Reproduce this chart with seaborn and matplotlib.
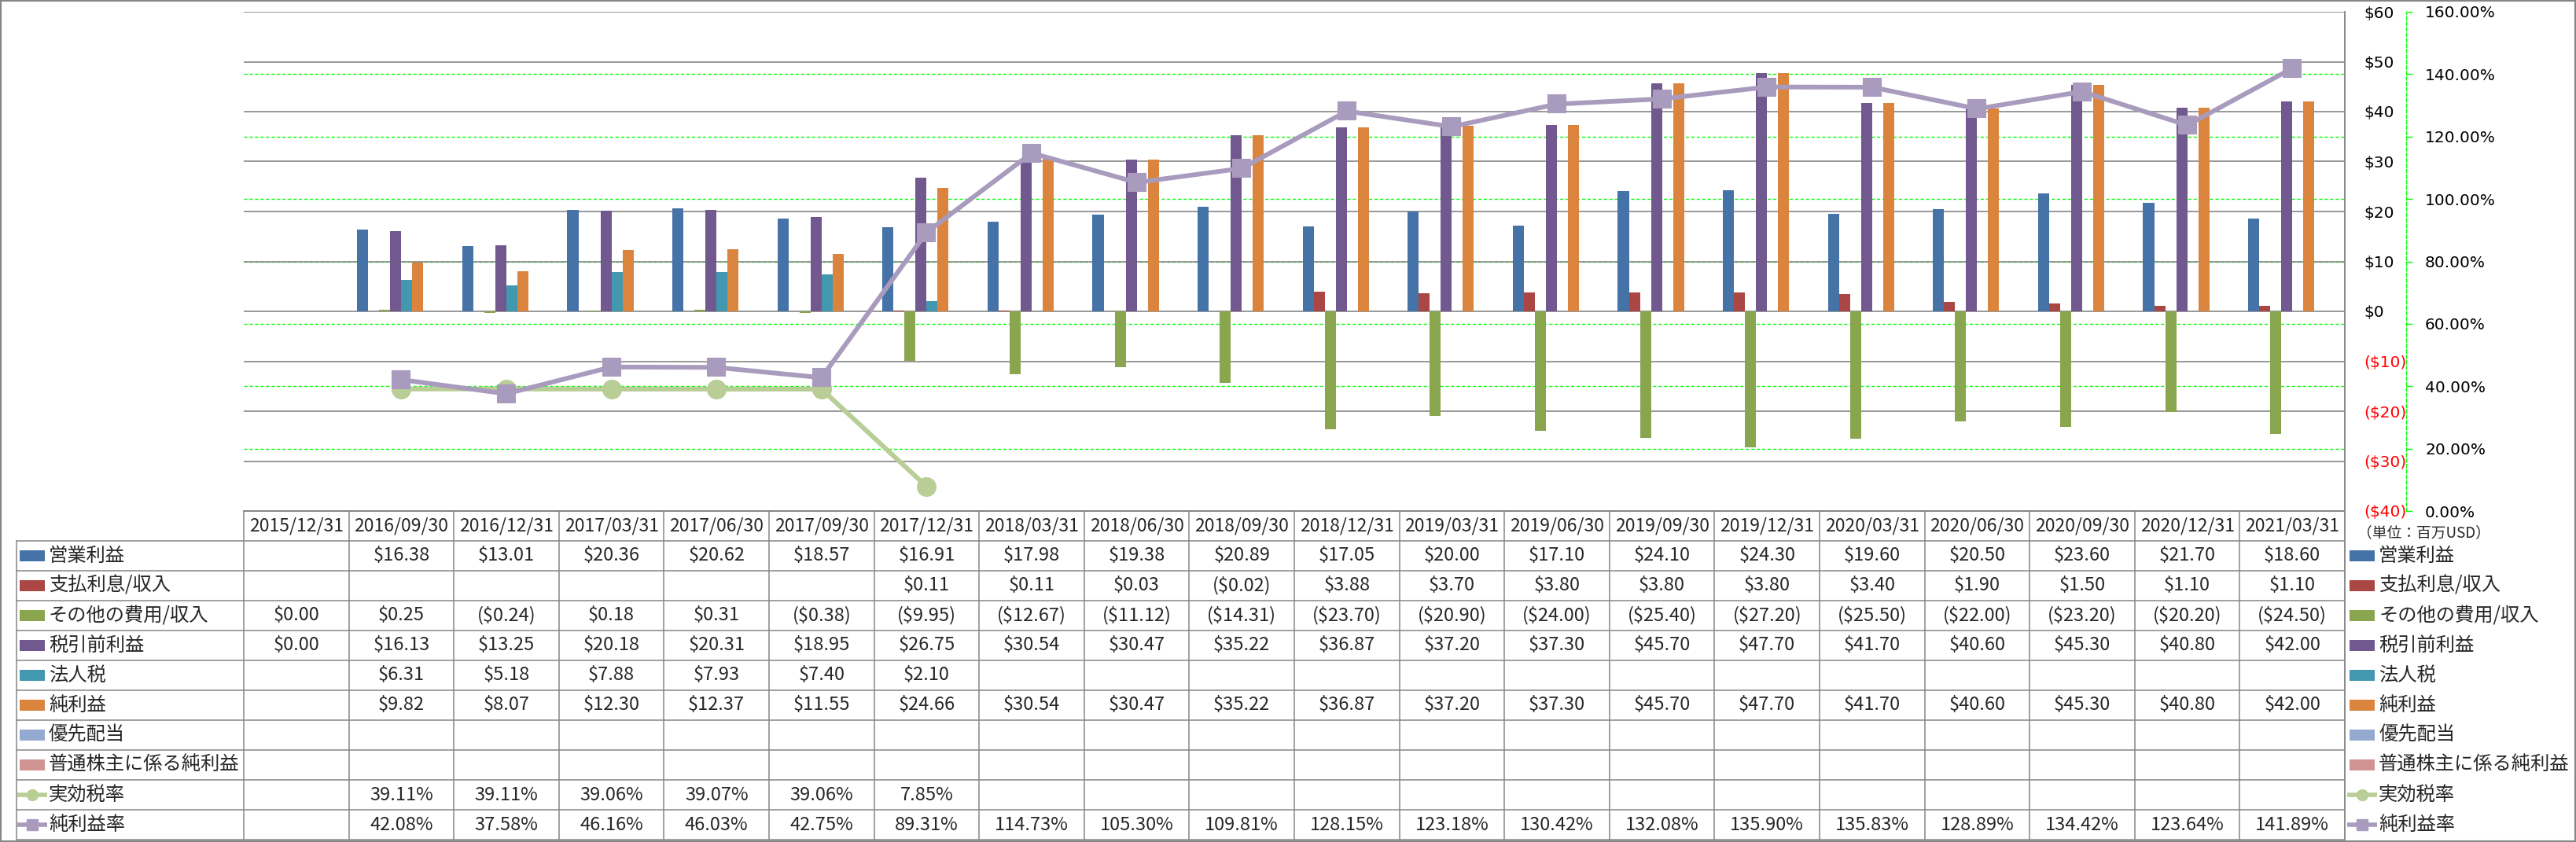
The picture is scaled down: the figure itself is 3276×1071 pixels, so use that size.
import numpy as np
import pandas as pd
import matplotlib
matplotlib.use("Agg")
import matplotlib.pyplot as plt
import seaborn as sns
from matplotlib.patches import Rectangle

# ---------------- data ----------------
dates = ["2015/12/31", "2016/09/30", "2016/12/31", "2017/03/31", "2017/06/30",
         "2017/09/30", "2017/12/31", "2018/03/31", "2018/06/30", "2018/09/30",
         "2018/12/31", "2019/03/31", "2019/06/30", "2019/09/30", "2019/12/31",
         "2020/03/31", "2020/06/30", "2020/09/30", "2020/12/31", "2021/03/31"]

op_income = [None, 16.38, 13.01, 20.36, 20.62, 18.57, 16.91, 17.98, 19.38, 20.89,
             17.05, 20.00, 17.10, 24.10, 24.30, 19.60, 20.50, 23.60, 21.70, 18.60]
interest = [None, None, None, None, None, None, 0.11, 0.11, 0.03, -0.02,
            3.88, 3.70, 3.80, 3.80, 3.80, 3.40, 1.90, 1.50, 1.10, 1.10]
other_exp = [0.00, 0.25, -0.24, 0.18, 0.31, -0.38, -9.95, -12.67, -11.12, -14.31,
             -23.70, -20.90, -24.00, -25.40, -27.20, -25.50, -22.00, -23.20, -20.20, -24.50]
pretax = [0.00, 16.13, 13.25, 20.18, 20.31, 18.95, 26.75, 30.54, 30.47, 35.22,
          36.87, 37.20, 37.30, 45.70, 47.70, 41.70, 40.60, 45.30, 40.80, 42.00]
income_tax = [None, 6.31, 5.18, 7.88, 7.93, 7.40, 2.10, None, None, None,
              None, None, None, None, None, None, None, None, None, None]
net_income = [None, 9.82, 8.07, 12.30, 12.37, 11.55, 24.66, 30.54, 30.47, 35.22,
              36.87, 37.20, 37.30, 45.70, 47.70, 41.70, 40.60, 45.30, 40.80, 42.00]
pref_div = [None] * 20
common_net = [None] * 20
eff_tax_rate = [None, 39.11, 39.11, 39.06, 39.07, 39.06, 7.85, None, None, None,
                None, None, None, None, None, None, None, None, None, None]
net_margin = [None, 42.08, 37.58, 46.16, 46.03, 42.75, 89.31, 114.73, 105.30, 109.81,
              128.15, 123.18, 130.42, 132.08, 135.90, 135.83, 128.89, 134.42, 123.64, 141.89]

bar_names = ["営業利益", "支払利息/収入", "その他の費用/収入", "税引前利益",
             "法人税", "純利益", "優先配当", "普通株主に係る純利益"]
bar_values = [op_income, interest, other_exp, pretax, income_tax, net_income,
              pref_div, common_net]
bar_colors = ["#4572A7", "#AA4643", "#89A54E", "#71588F",
              "#4198AF", "#DB843D", "#93A9CF", "#D19392"]
line_names = ["実効税率", "純利益率"]
line_values = [eff_tax_rate, net_margin]
line_colors = ["#B9CD96", "#A99BBD"]
line_markers = ["o", "s"]

money_ticks = list(range(-40, 61, 10))
pct_ticks = list(range(0, 161, 20))

# ---------------- style ----------------
sns.set_style("white")
plt.rcParams["font.family"] = ["DejaVu Sans"]
JP = ["Noto Sans CJK JP", "DejaVu Sans"]

W, H = 3276, 1071
fig = plt.figure(figsize=(W / 100, H / 100), dpi=100)
L, R, T, B = 310, 2982, 15, 650
ax = fig.add_axes([L / W, 1 - B / H, (R - L) / W, (B - T) / H])
GRAY = "#868686"

rows = []
for name, vals in zip(bar_names, bar_values):
    for d, v in zip(dates, vals):
        if v is not None:
            rows.append((d, name, v))
df = pd.DataFrame(rows, columns=["date", "series", "value"])

sns.barplot(data=df, x="date", y="value", hue="series", order=dates,
            hue_order=bar_names, palette=dict(zip(bar_names, bar_colors)),
            width=0.84, gap=0, dodge=True, saturation=1, errorbar=None,
            legend=False, linewidth=0, ax=ax)

ax2 = ax.twinx()

ax.set_xlim(-0.5, len(dates) - 0.5)
ax.set_ylim(-40, 60)
ax.set_xticks([])
ax.set_xlabel("")
ax.set_ylabel("")
ax.set_yticks(money_ticks)
ax.set_yticklabels([f"${v}" if v >= 0 else f"(${-v})" for v in money_ticks])
ax.yaxis.tick_right()
ax.tick_params(axis="y", left=False, labelleft=False, right=True,
               labelright=True, length=0, pad=17.3, labelsize=14.5)
for tk, v in zip(ax.yaxis.get_major_ticks(), money_ticks):
    c = "#FF0000" if v < 0 else "black"
    tk.label1.set_color(c)
    tk.label2.set_color(c)
ax.yaxis.grid(True, color=GRAY, lw=1.2)
ax.set_axisbelow(True)
for p in pct_ticks[1:-1]:
    ax.axhline(-40 + p * 100 / 160, color="#00FF00", lw=1.0,
               ls=(0, (3, 2)), zorder=0.4)
for s in ["top", "left"]:
    ax.spines[s].set_visible(False)
for s in ["bottom", "right"]:
    ax.spines[s].set_color(GRAY)
    ax.spines[s].set_linewidth(1.2)

xpos = np.arange(len(dates))
for name, vals, col, mk in zip(line_names, line_values, line_colors, line_markers):
    sns.lineplot(x=xpos, y=np.array(vals, dtype=float), ax=ax2, color=col,
                 linewidth=4.3, marker=mk, markersize=16.5, markeredgecolor=col,
                 markeredgewidth=1.5, legend=False, sort=False)
ax2.set_ylim(0, 160)
ax2.set_xlim(-0.5, len(dates) - 0.5)
ax2.set_yticks(pct_ticks)
ax2.set_yticklabels([f"{v:.2f}%" for v in pct_ticks])
ax2.set_xlabel("")
ax2.set_ylabel("")
for s in ["top", "left", "bottom"]:
    ax2.spines[s].set_visible(False)
ax2.spines["right"].set_position(("outward", 56.2))
ax2.spines["right"].set_color("#00FF00")
ax2.spines["right"].set_linestyle((0, (3, 2)))
ax2.spines["right"].set_linewidth(1.0)
ax2.tick_params(axis="y", length=5.8, width=1, color="#00FF00",
                labelcolor="black", pad=11.5, labelsize=14.5)

# ---------------- data table ----------------
tax = fig.add_axes([0, 0, 1, 1])
tax.set_xlim(0, W)
tax.set_ylim(H, 0)
tax.axis("off")

cw = (R - L) / len(dates)
row_top = 688
rh = 38
n_rows = 10
bottom = row_top + n_rows * rh
lk = dict(color=GRAY, lw=1.1)
tax.plot([L, R], [B, B], **lk)
for k in range(n_rows + 1):
    y = row_top + k * rh
    tax.plot([21, R], [y, y], **lk)
tax.plot([21, 21], [row_top, bottom], **lk)
for i in range(len(dates) + 1):
    x = L + i * cw
    tax.plot([x, x], [B, bottom], **lk)
tax.plot([R, R], [T, bottom], **lk)
tax.add_patch(Rectangle((1, 1), W - 2, bottom + 1, fill=False, ec=GRAY, lw=1.5))

for i, d in enumerate(dates):
    tax.text(L + (i + 0.5) * cw, (B + row_top) / 2, d, ha="center",
             va="center", fontsize=16.5, family=JP)


def fmt_money(v):
    if v is None:
        return ""
    return f"${v:,.2f}" if v >= 0 else f"(${-v:,.2f})"


def fmt_pct(v):
    return "" if v is None else f"{v:.2f}%"


all_names = bar_names + line_names
all_vals = bar_values + line_values
all_colors = bar_colors + line_colors
for k, (name, vals, col) in enumerate(zip(all_names, all_vals, all_colors)):
    yc = row_top + (k + 0.5) * rh
    is_line = k >= len(bar_names)
    for i, v in enumerate(vals):
        txt = fmt_pct(v) if is_line else fmt_money(v)
        tax.text(L + (i + 0.5) * cw, yc, txt, ha="center", va="center",
                 fontsize=17, family=JP)
    # legend keys: left (in table) and right (outside)
    for kx, tx in [(25, 62), (2988, 3025)]:
        if is_line:
            mk = line_markers[k - len(bar_names)]
            tax.plot([kx - 3, kx + 35], [yc, yc], color=col, lw=4.0,
                     solid_capstyle="butt")
            tax.plot([kx + 16], [yc], marker=mk, markersize=10, color=col,
                     markeredgecolor=col)
        else:
            tax.add_patch(Rectangle((kx, yc - 7), 32, 14, color=col, lw=0))
        tax.text(tx, yc, name, ha="left", va="center", fontsize=17.5, family=JP)

tax.text(2998, 678, "（単位：百万USD）", ha="left", va="center",
         fontsize=13.5, family=JP)

fig.savefig("out.png", dpi=100)
